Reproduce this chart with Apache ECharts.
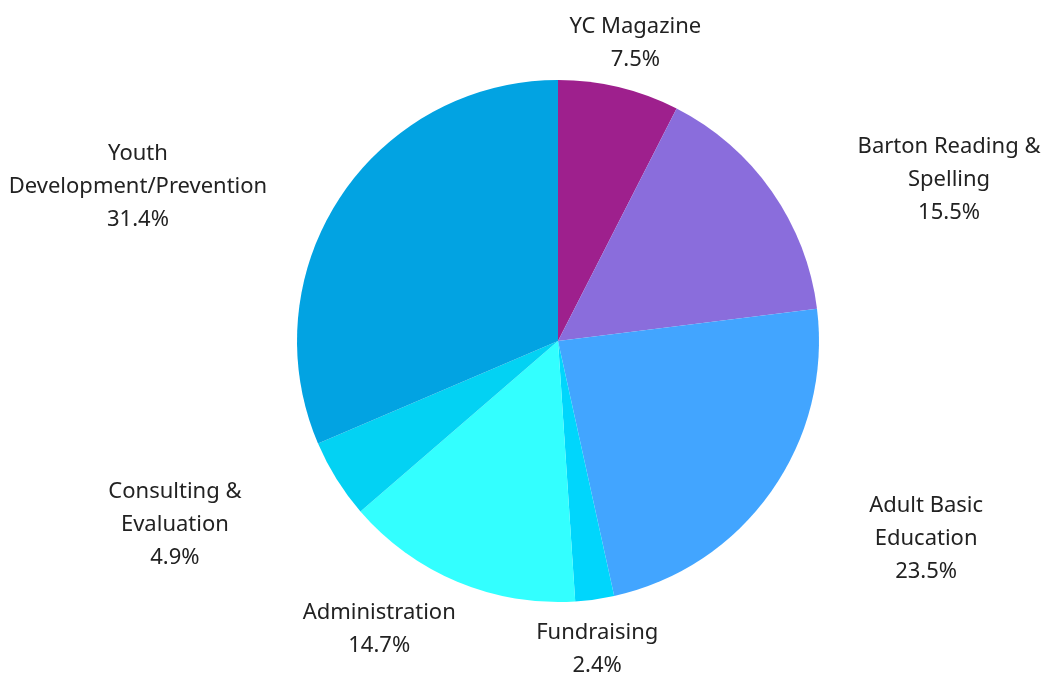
<!DOCTYPE html>
<html>
<head>
<meta charset="utf-8">
<script src="https://cdn.jsdelivr.net/npm/echarts@6/dist/echarts.min.js"></script>
<style>
  html, body { margin: 0; padding: 0; background: #fff; }
  #chart { width: 1045px; height: 677px; }
</style>
</head>
<body>
<div id="chart"></div>
<script>
var names = ['YC Magazine', 'Barton Reading &\nSpelling', 'Adult Basic\nEducation', 'Fundraising',
             'Administration', 'Consulting &\nEvaluation', 'Youth\nDevelopment/Prevention'];
var values = [7.5, 15.5, 23.5, 2.4, 14.7, 4.9, 31.4];
var colors = ['#9e208d', '#8a6ddc', '#42a5ff', '#00d6fc', '#33ffff', '#03d2f3', '#02a3e2'];

var cx = 558, cy = 341, radius = 261;

var total = 0;
for (var i = 0; i < values.length; i++) total += values[i];

// place each label around its slice's mid angle
function placeLabel(params) {
    var idx = params.dataIndex;
    var before = 0;
    for (var j = 0; j < idx; j++) before += values[j];
    var theta = (before + values[idx] / 2) / total * Math.PI * 2;
    var sx = Math.sin(theta), cs = Math.cos(theta);
    var w = params.labelRect.width, h = params.labelRect.height;
    var R = radius + 17;
    var s = Math.min(1, Math.max(0, (Math.abs(sx) - 0.2) / 0.4));
    var x = cx + sx * R + (sx < 0 ? -1 : 1) * (0.65 * w / 2 + 104) * s;
    var y = cy - cs * R + (cs < 0 ? h / 2 * Math.sqrt(-cs) : -h / 2 * Math.pow(cs, 6));
    return { x: x, y: y, align: 'center', verticalAlign: 'middle' };
}

var pieData = [];
for (var k = 0; k < names.length; k++) {
    pieData.push({ name: names[k], value: values[k], itemStyle: { color: colors[k] } });
}

var option = {
    animation: false,
    series: [
        {
            type: 'pie',
            center: [cx, cy],
            radius: radius,
            startAngle: 90,
            clockwise: true,
            avoidLabelOverlap: false,
            itemStyle: { borderWidth: 0 },
            label: {
                show: true,
                position: 'outside',
                formatter: '{b}\n{c}%',
                fontFamily: 'Noto Sans',
                fontSize: 22,
                lineHeight: 33,
                color: '#222'
            },
            labelLine: { show: false },
            labelLayout: placeLabel,
            emphasis: { disabled: true },
            data: pieData
        }
    ]
};

var chart = echarts.init(document.getElementById('chart'));
chart.setOption(option);
</script>
</body>
</html>
